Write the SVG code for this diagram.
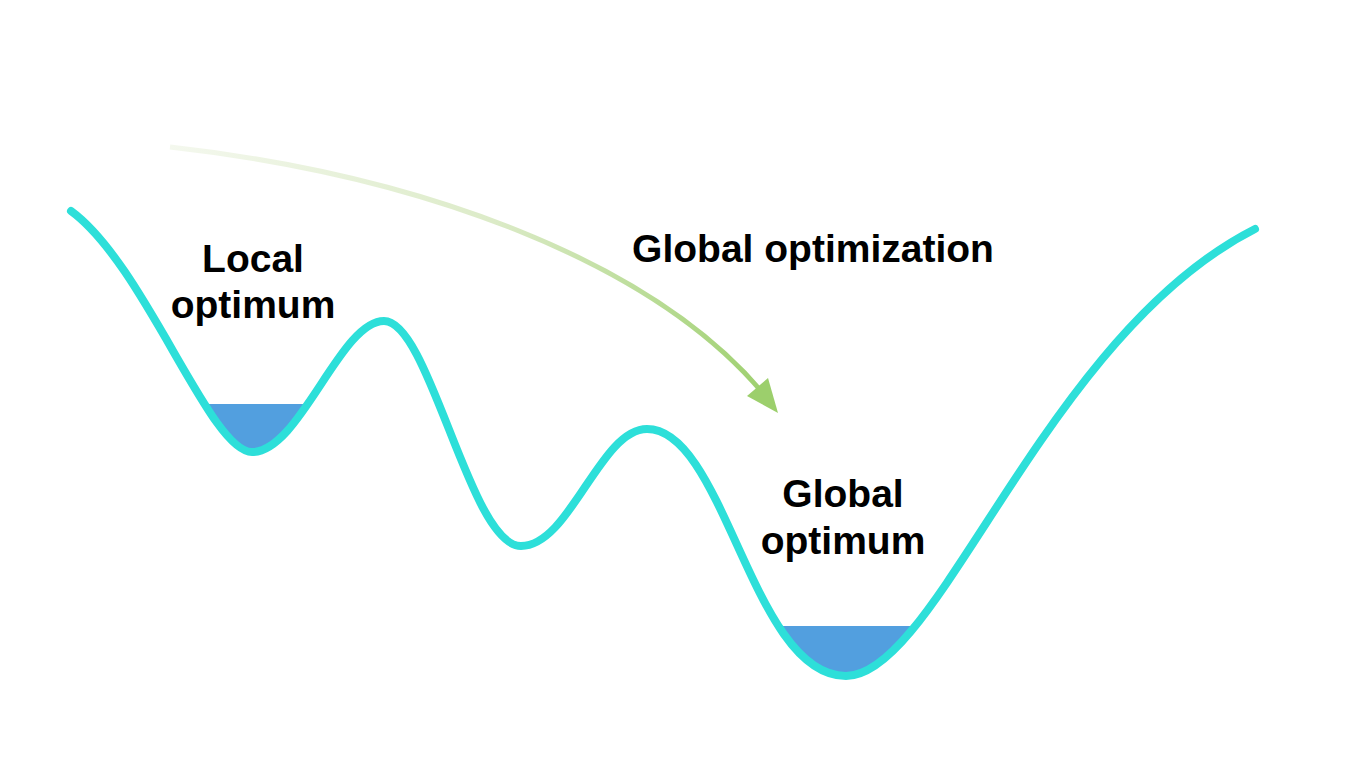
<svg xmlns="http://www.w3.org/2000/svg" width="1356" height="763" viewBox="0 0 1356 763">
  <defs>
    <style>
      .curve { fill: none; stroke: #2ddfd9; stroke-width: 8; stroke-linecap: round; stroke-linejoin: round; }
      .water { fill: #529fdf; stroke: none; }
      .label { font-family: "Liberation Sans", Arial, sans-serif; font-weight: bold; font-size: 39px; fill: #000; text-anchor: middle; }
    </style>
    <linearGradient id="arrowGrad" gradientUnits="userSpaceOnUse" x1="170" y1="147" x2="770" y2="400">
      <stop offset="0" stop-color="#f4f8ee"/>
      <stop offset="0.5" stop-color="#dcebc8"/>
      <stop offset="1" stop-color="#9ccf6c"/>
    </linearGradient>
    <clipPath id="localPool">
      <rect x="150" y="404" width="200" height="80"/>
    </clipPath>
    <clipPath id="globalPool">
      <rect x="700" y="626" width="300" height="80"/>
    </clipPath>
  </defs>

  <rect width="1356" height="763" fill="#ffffff"/>

  <!-- water in the two valleys -->
  <g id="local-pool">
    <path class="water" clip-path="url(#localPool)" d="M71 211 C145 265 210 452 252 452 C300 452 340 321 384 321 Z"/>
  </g>
  <g id="global-pool">
    <path class="water" clip-path="url(#globalPool)" d="M647 429 C725 429 752 676 846 676 C938 676 1045 335 1255 229 Z"/>
  </g>

  <!-- energy landscape -->
  <g id="landscape">
    <path class="curve" d="M71 211 C145 265 210 452 252 452 C300 452 340 321 384 321 C430 321 470 546 521 546 C570 546 600 429 647 429 C725 429 752 676 846 676 C938 676 1045 335 1255 229"/>
  </g>

  <!-- connectors -->
  <g id="connectors">
    <path d="M170 147 C420 175 650 260 762 392" fill="none" stroke="url(#arrowGrad)" stroke-width="5"/>
    <polygon points="778,413 747,396 768,378" fill="#9ccf6c"/>
  </g>

  <g id="local-label">
    <text class="label" x="253" y="272">Local</text>
    <text class="label" x="253" y="318">optimum</text>
  </g>
  <g id="global-opt-label">
    <text class="label" x="813" y="262">Global optimization</text>
  </g>
  <g id="global-label">
    <text class="label" x="843" y="507">Global</text>
    <text class="label" x="843" y="554">optimum</text>
  </g>
</svg>
